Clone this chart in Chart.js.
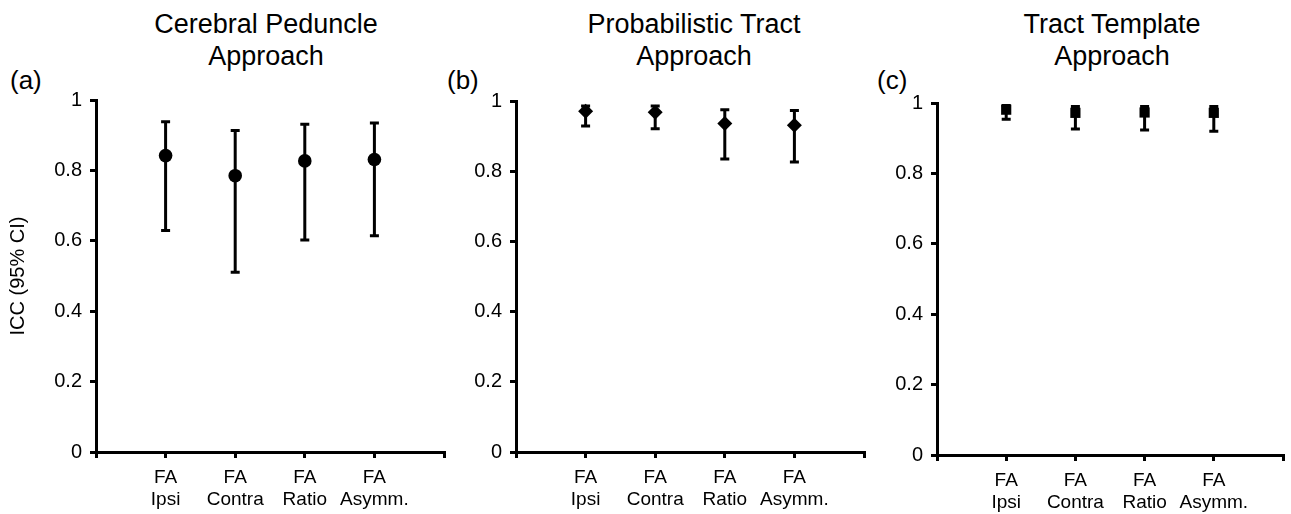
<!DOCTYPE html>
<html>
<head>
<meta charset="utf-8">
<script src="https://cdn.jsdelivr.net/npm/chart.js@4"></script>
<style>
  html, body { margin: 0; padding: 0; background: #fff; }
  body { width: 1291px; height: 514px; position: relative; overflow: hidden;
         font-family: "Liberation Sans", Arial, sans-serif; color: #000; }
  canvas { position: absolute; top: 0; }
  .title { position: absolute; top: 8px; width: 360px; text-align: center;
           font-size: 27px; line-height: 32px; }
  .lab { position: absolute; top: 67px; font-size: 26px; line-height: 26px; }
</style>
</head>
<body>
<div class="title" style="left:86px">Cerebral Peduncle<br>Approach</div>
<div class="title" style="left:514px">Probabilistic Tract<br>Approach</div>
<div class="title" style="left:932px">Tract Template<br>Approach</div>
<div class="lab" style="left:10px">(a)</div>
<div class="lab" style="left:447px">(b)</div>
<div class="lab" style="left:877px">(c)</div>

<canvas id="cp" style="left:0px" width="452" height="514"></canvas>
<canvas id="pt" style="left:452px" width="420" height="514"></canvas>
<canvas id="tt" style="left:872px" width="419" height="514"></canvas>

<script>
var categories = [['FA', 'Ipsi'], ['FA', 'Contra'], ['FA', 'Ratio'], ['FA', 'Asymm.']];
var yTicks = [0, 0.2, 0.4, 0.6, 0.8, 1];

// cerebral peduncle approach
var cpIcc = [0.842, 0.785, 0.827, 0.831];
var cpLow = [0.629, 0.511, 0.602, 0.614];
var cpHigh = [0.938, 0.913, 0.931, 0.935];

// probabilistic tract approach
var ptIcc = [0.971, 0.968, 0.936, 0.931];
var ptLow = [0.929, 0.921, 0.835, 0.826];
var ptHigh = [0.986, 0.986, 0.975, 0.973];

// tract template approach
var ttIcc = [0.981, 0.972, 0.973, 0.972];
var ttLow = [0.954, 0.926, 0.923, 0.920];
var ttHigh = [0.993, 0.990, 0.990, 0.990];

Chart.defaults.font.family = '"Liberation Sans", Arial, sans-serif';
Chart.defaults.color = '#000';

var errorBars = {
  id: 'errorBars',
  beforeDatasetsDraw: function(chart, args, opts) {
    var ctx = chart.ctx, x = chart.scales.x, y = chart.scales.y;
    ctx.save();
    ctx.strokeStyle = '#000';
    ctx.lineWidth = 3;
    opts.low.forEach(function(lo, i) {
      var px = x.getPixelForValue(i + 1);
      var yl = y.getPixelForValue(lo);
      var yh = y.getPixelForValue(opts.high[i]);
      ctx.beginPath();
      ctx.moveTo(px, yl); ctx.lineTo(px, yh);
      ctx.moveTo(px - 4.5, yl); ctx.lineTo(px + 4.5, yl);
      ctx.moveTo(px - 4.5, yh); ctx.lineTo(px + 4.5, yh);
      ctx.stroke();
    });
    ctx.restore();
  }
};

function makePanel(id, icc, low, high, shape, radius, box) {
  new Chart(document.getElementById(id), {
    type: 'scatter',
    data: {
      datasets: [{
        data: icc.map(function(v, i) { return {x: i + 1, y: v}; }),
        pointStyle: shape,
        pointRadius: radius,
        pointHoverRadius: radius,
        backgroundColor: '#000',
        borderColor: '#000',
        borderWidth: 0
      }]
    },
    options: {
      responsive: false,
      animation: false,
      events: [],
      layout: { padding: { top: box.top, right: box.right, bottom: 0, left: 0 } },
      plugins: {
        legend: { display: false },
        tooltip: { enabled: false },
        errorBars: { low: low, high: high }
      },
      scales: {
        x: {
          type: 'linear', min: 0, max: 5,
          afterFit: function(s) { s.height = box.xh; },
          afterBuildTicks: function(s) { s.ticks = [0, 1, 2, 3, 4, 5].map(function(v) { return {value: v}; }); },
          grid: { drawOnChartArea: false, drawTicks: true, tickLength: 6, color: '#000', lineWidth: 3 },
          border: { display: true, color: '#000', width: 3 },
          ticks: {
            padding: 8, maxRotation: 0, autoSkip: false,
            font: { size: 19 },
            callback: function(v) { return categories[v - 1] || ''; }
          }
        },
        y: {
          min: 0, max: 1,
          afterFit: function(s) { s.width = box.yw; },
          afterBuildTicks: function(s) { s.ticks = yTicks.map(function(v) { return {value: v}; }); },
          grid: { drawOnChartArea: false, drawTicks: true, tickLength: 6, color: '#000', lineWidth: 3 },
          border: { display: true, color: '#000', width: 3 },
          ticks: {
            padding: 8, font: { size: 20 },
            callback: function(v) { return String(+v.toFixed(1)); }
          },
          title: {
            display: box.ytitle, text: 'ICC (95% CI)',
            font: { size: 20 }, padding: { top: 6, bottom: 0 }
          }
        }
      }
    },
    plugins: [errorBars]
  });
}

makePanel('cp', cpIcc, cpLow, cpHigh, 'circle', 6.8, { top: 100, right: 6, xh: 62, yw: 96, ytitle: true });
makePanel('pt', ptIcc, ptLow, ptHigh, 'rectRot', 7.5, { top: 101, right: 6, xh: 62, yw: 64, ytitle: false });
makePanel('tt', ttIcc, ttLow, ttHigh, 'rect', 7.2, { top: 103, right: 2, xh: 59, yw: 65, ytitle: false });
</script>
</body>
</html>
